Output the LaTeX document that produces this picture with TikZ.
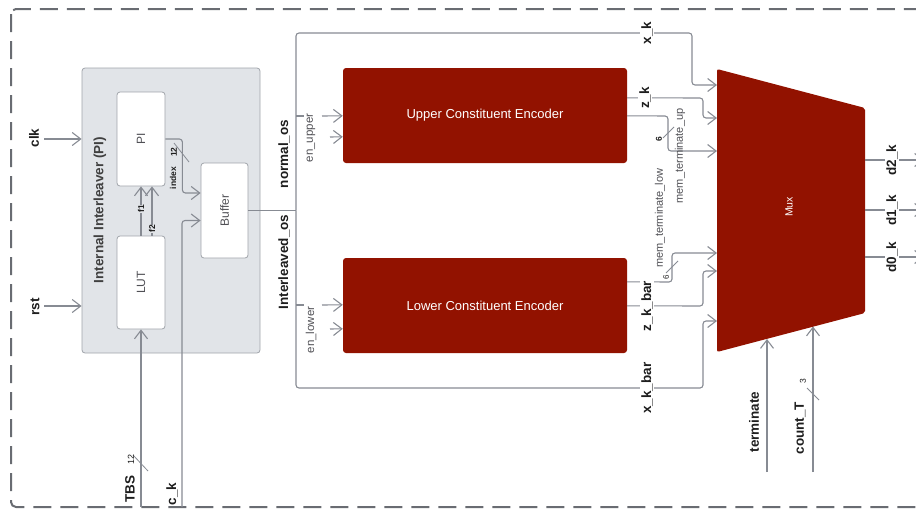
\documentclass[tikz,border=0pt]{standalone}
\usepackage{fontspec}
\setmainfont{Liberation Sans}
\usetikzlibrary{arrows.meta,calc}
\definecolor{encred}{RGB}{146,18,0}
\definecolor{wirec}{RGB}{135,139,147}
\definecolor{boxgray}{RGB}{225,228,232}
\definecolor{boxedge}{RGB}{160,164,170}
\definecolor{borderc}{RGB}{105,108,114}
\definecolor{labc}{RGB}{30,30,30}
\definecolor{glabc}{RGB}{80,80,85}
\begin{document}
\begin{tikzpicture}[x=1pt,y=-1pt,
  wire/.style={draw=wirec, line width=1.1pt},
  arr/.style={wire, -{Straight Barb[length=8.5pt,width=13pt]}},
  rc/.style={rounded corners=3pt},
  blk/.style={draw=boxedge, fill=white, rounded corners=3pt, line width=0.8pt, inner sep=0pt},
  enc/.style={fill=encred, rounded corners=3pt, inner sep=0pt, minimum width=284pt, minimum height=95pt, text=white, font=\fontsize{13}{15}\selectfont},
  blab/.style={rotate=90, inner sep=1.5pt, text=labc, font=\fontsize{13.5}{16}\selectfont\bfseries},
  glab/.style={rotate=90, inner sep=1pt, text=glabc, font=\fontsize{11}{13}\selectfont},
  slab/.style={rotate=90, inner sep=0.5pt, text=labc, font=\fontsize{8.5}{10}\selectfont\bfseries},
  tlab/.style={rotate=90, inner sep=0.5pt, text=labc, font=\fontsize{8.5}{10}\selectfont},
  onw/.style={fill=white},
  slash/.style={draw=wirec, line width=0.8pt},
]
\useasboundingbox (0,0) rectangle (916,509);
\clip (0,0) rectangle (916,509);
% outer dashed border
\draw[draw=borderc, line width=2pt, dash pattern=on 18pt off 9pt, rounded corners=5pt] (11,9) rectangle (960,507);

% internal interleaver
\node[draw=boxedge, fill=boxgray, rounded corners=3pt, line width=0.8pt, minimum width=178pt, minimum height=285pt, inner sep=0pt] (ii) at (171,210.5) {};
\node[blab, text=labc!85] (iit) at (100,210) {Internal Interleaver (PI)};
\node[blk, minimum width=48pt, minimum height=94pt] (pi) at (141,139) {};
\node[glab, font=\fontsize{12}{14}\selectfont] (pit) at (pi.center) {PI};
\node[blk, minimum width=48pt, minimum height=93pt] (lut) at (141,282.5) {};
\node[glab, font=\fontsize{12}{14}\selectfont] (lutt) at (lut.center) {LUT};
\node[blk, minimum width=47pt, minimum height=95pt] (buf) at (224.5,210.5) {};
\node[glab, font=\fontsize{12}{14}\selectfont] (buft) at (buf.center) {Buffer};

% encoders
\node[enc] (ue) at (485,115.5) {Upper Constituent Encoder};
\node[enc] (le) at (485,305.5) {Lower Constituent Encoder};

% mux
\coordinate (mtl) at (717,69);
\coordinate (mtr) at (865,108);
\coordinate (mbr) at (865,313);
\coordinate (mbl) at (717,352);
\fill[encred, rounded corners=2pt] (mtl) -- (mtr) -- (mbr) -- (mbl) -- cycle;
\node[rotate=90, text=white, font=\fontsize{10.5}{12}\selectfont] (mux) at (789,207) {Mux};
\coordinate (mx1) at (717,85);
\coordinate (mx2) at (717,118);
\coordinate (mx3) at (717,151);
\coordinate (mx4) at (717,253);
\coordinate (mx5) at (717,271);
\coordinate (mx6) at (717,321);
\coordinate (mb1) at (767,339);
\coordinate (mb2) at (813,326.5);

% clk / rst
\coordinate (clkin) at (44,139);
\draw[arr] (clkin) -- (clkin -| ii.west);
\node[blab] (clk) at (34,138) {clk};
\coordinate (rstin) at (44,306);
\draw[arr] (rstin) -- (rstin -| ii.west);
\node[blab] (rst) at (35,307) {rst};

% TBS
\coordinate (tbsin) at (141,507);
\draw[arr] (tbsin) -- (lut.south);
\draw[slash] (133,455) -- (148,471);
\node[blab] (tbs) at (130,489) {TBS};
\node[tlab, font=\fontsize{9}{10}\selectfont] (tbsw) at (131,459) {12};

% c_k
\coordinate (ckin) at (182,507);
\draw[arr, rc] (ckin) |- ($(buf.west)+(0,10)$);
\node[blab] (ck) at (172,494) {c\_k};

% index
\draw[arr, rc] (pi.east) -- ++(17,0) |- ($(buf.west)+(0,-17.5)$);
\draw[slash] (174,143) -- (189,162);
\node[slab] (idx) at (173,178) {index};
\node[slab] (idxw) at (174,152) {12};

% f1 f2
\draw[arr] (lut.north) -- (pi.south);
\draw[arr] ($(lut.north)+(11,0)$) -- ($(pi.south)+(11,0)$);
\node[slab, fill=boxgray] (f1) at (141,209) {f1};
\node[slab, fill=boxgray] (f2) at (152,229) {f2};

% buses
\coordinate (bus) at (296,210.5);
\draw[wire] (buf.east) -- (bus);
\draw[arr, rc] (bus) |- (692,33) |- (mx1);
\draw[arr, rc] (bus) |- (703,388) |- (mx6);
\node[blab, onw] (xk) at (647,33) {x\_k};
\node[blab, onw] (xkb) at (647,388) {x\_k\_bar};
\node[blab] (nos) at (284,154) {normal\_os};
\node[blab] (ios) at (284,262) {Interleaved\_os};

% en_upper
\coordinate (bu1) at (296,116);
\coordinate (bu1e) at (304,116);
\coordinate (enu1) at (322,116);
\coordinate (enu2) at (330,137);
\draw[wire] (bu1) -- (bu1e);
\draw[arr] (enu1) -- ($(ue.north west)+(0,48)$);
\draw[arr] (enu2) -- ($(ue.north west)+(0,69)$);
\node[glab, font=\fontsize{11.5}{13}\selectfont] (enut) at (311,138) {en\_upper};

% en_lower
\coordinate (bl1) at (296,305);
\coordinate (bl1e) at (304,305);
\coordinate (enl1) at (322,305);
\coordinate (enl2) at (330,329);
\draw[wire] (bl1) -- (bl1e);
\draw[arr] (enl1) -- ($(le.north west)+(0,47)$);
\draw[arr] (enl2) -- ($(le.north west)+(0,71)$);
\node[glab, font=\fontsize{11.5}{13}\selectfont] (enlt) at (311,330) {en\_lower};

% upper encoder outputs
\draw[arr, rc] ($(ue.north east)+(0,30)$) -- (703,98) |- (mx2);
\node[blab, onw] (zk) at (645,98) {z\_k};
\draw[arr, rc] ($(ue.north east)+(0,48)$) -- (668,116) |- (mx3);
\draw[slash] (663,138) -- (674,127);
\node[slab] (w6a) at (659,139) {6};
\node[glab] (mtu) at (680,156) {mem\_terminate\_up};

% lower encoder outputs
\draw[arr, rc] ($(le.north east)+(0,24)$) -- (672,282) |- (mx4);
\draw[slash] (666,273) -- (678,261);
\node[slab, font=\fontsize{8}{9}\selectfont] (w6b) at (666,277) {6};
\node[glab] (mtlo) at (660,218) {mem\_terminate\_low};
\draw[arr, rc] ($(le.north east)+(0,48)$) -- (703,306) |- (mx5);
\node[blab, onw] (zkb) at (647,306) {z\_k\_bar};

% mux outputs
\foreach \n/\y in {2/160,1/210,0/257} {
  \coordinate (md\n) at (865,\y);
  \coordinate (od\n) at (924,\y);
  \draw[arr] (md\n) -- (od\n);
  \node[blab, onw] (dl\n) at (892,\y) {d\n\_k};
}

% terminate / count_T
\coordinate (termin) at (767,472);
\draw[arr] (termin) -- (mb1);
\node[blab] (term) at (754,422) {terminate};
\coordinate (cntin) at (813,472);
\draw[arr] (cntin) -- (mb2);
\draw[slash] (807,388) -- (819,400);
\node[tlab] (cw) at (803,381) {3};
\node[blab] (cnt) at (800,428) {count\_T};
\end{tikzpicture}
\end{document}
